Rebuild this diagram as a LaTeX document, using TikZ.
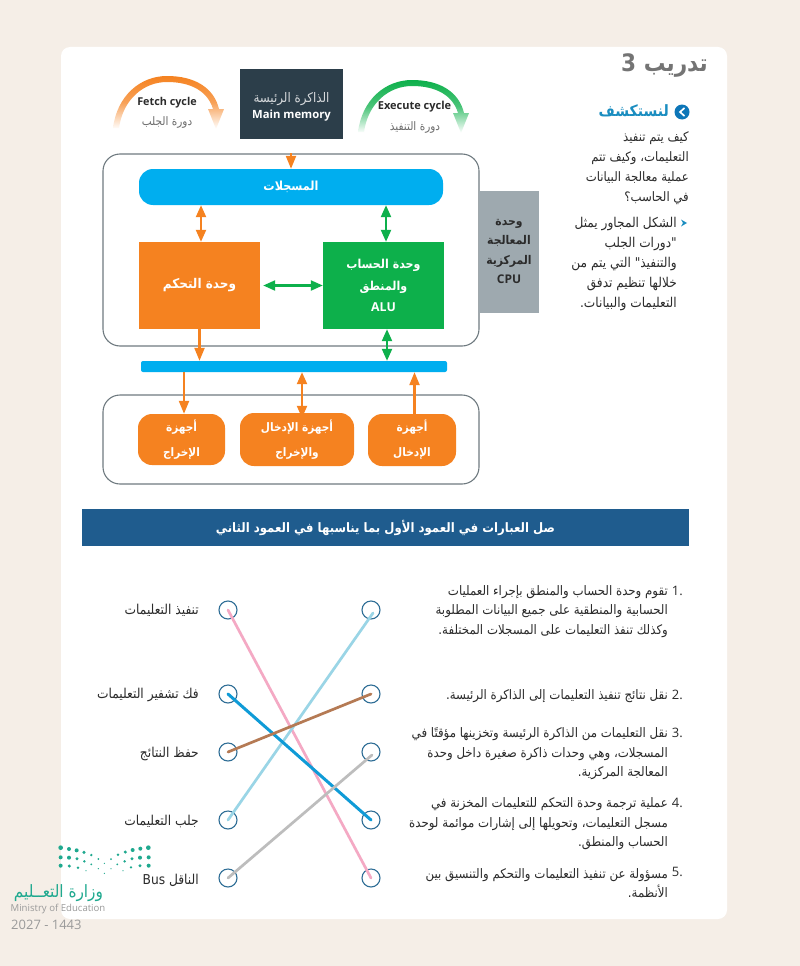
\documentclass[tikz,border=0pt]{standalone}
\usepackage{fontspec}
\setmainfont{Open Sans}
\newfontfamily\arabicfont[Script=Arabic,FakeStretch=0.9]{DejaVu Sans}
\TeXXeTstate=1
\usetikzlibrary{arrows.meta,calc}
\newcommand{\artxt}[1]{{\arabicfont\beginR #1\endR}}
\newcommand{\fs}[2]{\fontsize{#1}{#2}\selectfont}
\definecolor{pagebg}{HTML}{F5EEE7}
\definecolor{cOrange}{HTML}{F58220}
\definecolor{cCyan}{HTML}{00AEEF}
\definecolor{cGreen}{HTML}{0DB04B}
\definecolor{cDark}{HTML}{2C3E4A}
\definecolor{cGray}{HTML}{9EA9AF}
\definecolor{cEdge}{HTML}{6F7A80}
\definecolor{cBand}{HTML}{1F5C8E}
\definecolor{cRing}{HTML}{2F6E96}
\definecolor{cPink}{HTML}{F4A9C4}
\definecolor{cSky}{HTML}{9AD5E6}
\definecolor{cBlue}{HTML}{0F9BD7}
\definecolor{cBrown}{HTML}{B57A54}
\definecolor{cSilver}{HTML}{BDBDBD}
\definecolor{cText}{HTML}{2B2B2B}
\definecolor{cTeal}{HTML}{1FA98F}
\definecolor{cLogoGray}{HTML}{9A9A9A}
\definecolor{cIcon}{HTML}{0D76B8}
\definecolor{cHead}{HTML}{1A8DC0}
\tikzset{
  flat/.style={draw=none,inner sep=0pt,align=center,text=white},
  ring/.style={circle,draw=cRing,line width=1.1pt,minimum size=18pt,inner sep=0pt,fill=none},
  frame/.style={draw=cEdge,line width=1.1pt,rounded corners=17pt,inner sep=0pt},
  oneway/.style={-{Triangle[length=13pt,width=10pt]},line width=2.2pt},
  twoway/.style={{Triangle[length=12pt,width=10pt]}-{Triangle[length=12pt,width=10pt]},line width=2.2pt},
  match/.style={line width=2.7pt,line cap=round},
  lefttxt/.style={anchor=east,inner sep=0pt,text=cText,font=\fs{13.6}{16}},
  para/.style={anchor=east,inner sep=0pt,align=right,text=cText,font=\fs{13.1}{19.6}},
}
\begin{document}
\begin{tikzpicture}[x=1pt,y=-1pt]
\useasboundingbox (0,0) rectangle (800,966);
\fill[pagebg] (0,0) rectangle (800,966);
\fill[white,rounded corners=9pt] (61,47) rectangle (727,919);

% fetch and execute arcs
\foreach \dx/\dy/\col in {0/0/cOrange,245/4/cGreen}{
  \begin{scope}[shift={(\dx,\dy)}]
    \shade[top color=\col,bottom color=white,middle color=\col!75!white,shading angle=0]
      (113,128) .. controls (117,96) and (140,76) .. (167,76)
      .. controls (195,76) and (214,88) .. (219,109)
      -- (224,109) -- (216,129) -- (208,109) -- (213,109)
      .. controls (208,92) and (192,82) .. (167,82)
      .. controls (144,82) and (123,99) .. (119,128) -- cycle;
  \end{scope}
}
\node[inner sep=0pt,font=\bfseries\fs{10.8}{14},text=cText] (fetchen) at (167,102.5) {Fetch cycle};
\node[inner sep=0pt,font=\fs{11.7}{14},text=cLogoGray!70!black] (fetchar) at (167,122) {\artxt{دورة الجلب}};
\node[inner sep=0pt,font=\bfseries\fs{11}{14},text=cText] (execen) at (414.5,107) {Execute cycle};
\node[inner sep=0pt,font=\fs{11.7}{14},text=cLogoGray!70!black] (execar) at (415,127) {\artxt{دورة التنفيذ}};

% main memory
\node[flat,fill=cDark,minimum width=103pt,minimum height=69pt,text=white] (mem) at (291.5,104) {};
\node[inner sep=0pt,text=white!80!cDark,font=\fs{13.2}{16}] (memar) at (291.5,99.5) {\artxt{الذاكرة الرئيسة}};
\node[inner sep=0pt,text=white,font=\bfseries\fs{11.3}{16}] (memen) at (291.5,116) {Main memory};

% CPU frame
\node[frame,minimum width=376pt,minimum height=192pt] (cpu) at (291,250) {};
\node[flat,fill=cGray,minimum width=60pt,minimum height=122pt,text=cText,font=\bfseries\fs{12}{19.6}] (cpulab) at (509,251.5)
  {\artxt{وحدة}\\\artxt{المعالجة}\\\artxt{المركزية}\\CPU};
\node[flat,fill=cCyan,rounded corners=14pt,minimum width=304pt,minimum height=36pt,font=\bfseries\fs{12.5}{16}] (reg) at (291,187) {\artxt{المسجلات}};
\node[flat,fill=cOrange,minimum width=121pt,minimum height=87pt,font=\bfseries\fs{13.4}{16}] (ctrl) at (199.5,285.5) {\artxt{وحدة التحكم}};
\node[flat,fill=cGreen,minimum width=121pt,minimum height=87pt,font=\bfseries\fs{12.3}{21.5}] (alu) at (383.5,285.5)
  {\artxt{وحدة الحساب}\\\artxt{والمنطق}\\ALU};

% bus
\node[flat,fill=cCyan,rounded corners=2pt,minimum width=306pt,minimum height=11pt] (bus) at (294,366.5) {};

% I/O frame
\node[frame,minimum width=376pt,minimum height=89pt] (iof) at (291,439.5) {};
\node[flat,fill=cOrange,rounded corners=14pt,minimum width=87pt,minimum height=51pt,font=\bfseries\fs{11.7}{25}] (odev) at (181.5,439.5) {\artxt{أجهزة}\\\artxt{الإخراج}};
\node[flat,fill=cOrange,rounded corners=14pt,minimum width=114pt,minimum height=53pt,font=\bfseries\fs{11.7}{25}] (iodev) at (297,439.5) {\artxt{أجهزة الإدخال}\\\artxt{والإخراج}};
\node[flat,fill=cOrange,rounded corners=14pt,minimum width=88pt,minimum height=52pt,font=\bfseries\fs{11.7}{25}] (idev) at (412,440) {\artxt{أجهزة}\\\artxt{الإدخال}};

% connectors
\draw[cOrange,oneway] (cpu.north) -- (reg.north);
\draw[cOrange,twoway] ([xshift=1.5pt]ctrl.north) -- ([xshift=1.5pt]ctrl.north |- reg.south);
\draw[cGreen,twoway] ([xshift=2.5pt]alu.north) -- ([xshift=2.5pt]alu.north |- reg.south);
\draw[cGreen,twoway] (ctrl.east) ++(3pt,0) -- (alu.west);
\draw[cOrange,oneway] (ctrl.south) -- (ctrl.south |- bus.north);
\draw[cGreen,twoway] ([xshift=3.5pt]alu.south) -- ([xshift=3.5pt]alu.south |- bus.north);
\draw[cOrange,oneway] ([xshift=2.5pt]odev.north |- bus.south) -- ([xshift=2.5pt]odev.north);
\draw[cOrange,twoway] ([xshift=5pt]iodev.north |- bus.south) -- ([xshift=5pt,yshift=-5pt]iodev.north);
\draw[cOrange,oneway] ([xshift=2.5pt]idev.north) -- ([xshift=2.5pt]idev.north |- bus.south);

% side column
\node[anchor=center,inner sep=0pt,text=cLogoGray!75!black,font=\bfseries\fs{24}{28}] (title) at (664.5,66) {\artxt{تدريب \beginL 3\endL}};
\node[circle,fill=cIcon,minimum size=15pt,inner sep=0pt] (icon) at (682,112) {};
\draw[white,line width=1.7pt] (684.5,108) -- (680,112) -- (684.5,116);
\node[anchor=east,inner sep=0pt,text=cHead,font=\bfseries\fs{15.6}{18}] (disc) at (669,111) {\artxt{لنستكشف}};
\node[para,font=\fs{13}{19.8}] (q1) at (689,168) {\artxt{كيف يتم تنفيذ}\\\artxt{التعليمات، وكيف تتم}\\\artxt{عملية معالجة البيانات}\\\artxt{في الحاسب؟}};
\fill[cHead] (681,219.5) -- (687,223) -- (681,226.5) -- (683,223) -- cycle;
\node[para,font=\fs{13.5}{20.2}] (q2) at (677,264) {\artxt{الشكل المجاور يمثل}\\\artxt{"دورات الجلب}\\\artxt{والتنفيذ" التي يتم من}\\\artxt{خلالها تنظيم تدفق}\\\artxt{التعليمات والبيانات.}};

% banner
\node[flat,fill=cBand,minimum width=607pt,minimum height=37pt,font=\bfseries\fs{13}{16}] (band) at (385.5,527.5) {\artxt{صل العبارات في العمود الأول بما يناسبها في العمود الثاني}};

% statements
\foreach \y/\t in {591/1.,695/2.,733/3.,803/4.,872/5.}{
  \node[anchor=east,inner sep=0pt,text=cText,font=\fs{13}{16}] at (683,\y) {\t};
}
\node[para] (s1) at (668,611.5) {\artxt{تقوم وحدة الحساب والمنطق بإجراء العمليات}\\\artxt{الحسابية والمنطقية على جميع البيانات المطلوبة}\\\artxt{وكذلك تنفذ التعليمات على المسجلات المختلفة.}};
\node[para] (s2) at (668,696) {\artxt{نقل نتائج تنفيذ التعليمات إلى الذاكرة الرئيسة.}};
\node[para] (s3) at (668,754) {\artxt{نقل التعليمات من الذاكرة الرئيسة وتخزينها مؤقتًا في}\\\artxt{المسجلات، وهي وحدات ذاكرة صغيرة داخل وحدة}\\\artxt{المعالجة المركزية.}};
\node[para] (s4) at (668,824) {\artxt{عملية ترجمة وحدة التحكم للتعليمات المخزنة في}\\\artxt{مسجل التعليمات، وتحويلها إلى إشارات موائمة لوحدة}\\\artxt{الحساب والمنطق.}};
\node[para] (s5) at (668,883) {\artxt{مسؤولة عن تنفيذ التعليمات والتحكم والتنسيق بين}\\\artxt{الأنظمة.}};

% left labels
\node[lefttxt] (t1) at (199,610) {\artxt{تنفيذ التعليمات}};
\node[lefttxt] (t2) at (199,695) {\artxt{فك تشفير التعليمات}};
\node[lefttxt] (t3) at (199,754) {\artxt{حفظ النتائج}};
\node[lefttxt] (t4) at (199,821) {\artxt{جلب التعليمات}};
\node[lefttxt] (t5) at (199,880) {\artxt{الناقل \beginL Bus\endL}};

% rings
\foreach \n/\y in {1/610,2/694,3/752,4/820,5/878}{
  \node[ring] (l\n) at (228,\y) {};
  \node[ring] (r\n) at (371,\y) {};
}
% matching lines
\draw[cPink,match] (l1.center) -- (r5.center);
\draw[cSky,match] (l4.center) -- ([xshift=2pt,yshift=-3pt]r1.center);
\draw[cBlue,match,line width=3pt] (l2.center) -- (r4.center);
\draw[cBrown,match] (l3.center) -- (r2.center);
\draw[cSilver,match] (l5.center) -- ([xshift=1pt,yshift=-3pt]r3.center);

% logo dots
\foreach \x/\y/\r in {182/83/7,207/87/6,230/91/6,252/97/5,274/105/4,295/117/3,333/117/3,354/104/4,376/96/5,398/90/6,421/86/6,445/83/7,
  182/112/6,207/113/6,231/116/5,253/124/4,274/133/3,295/146/2,313/130/2,333/146/2,352/133/3,374/124/4,396/116/5,420/113/6,446/112/6,
  182/137/6,208/138/5,234/143/4,258/152/2,313/160/2,369/152/2,393/142/4,420/137/5,446/137/6}{
  \fill[cTeal] ({\x/3},{820+\y/3}) circle ({\r/3});
}
\node[inner sep=0pt,text=cTeal,font=\fs{17}{18}] (lg1) at (58.5,893) {\artxt{وزارة التعــليم}};
\node[inner sep=0pt,text=cLogoGray,font=\fs{9.6}{12}] (lg2) at (58,909) {Ministry of Education};
\node[inner sep=0pt,text=cLogoGray,font=\fs{13}{14},anchor=west] (lg3) at (11,925) {2027 - 1443};
\end{tikzpicture}
\end{document}
